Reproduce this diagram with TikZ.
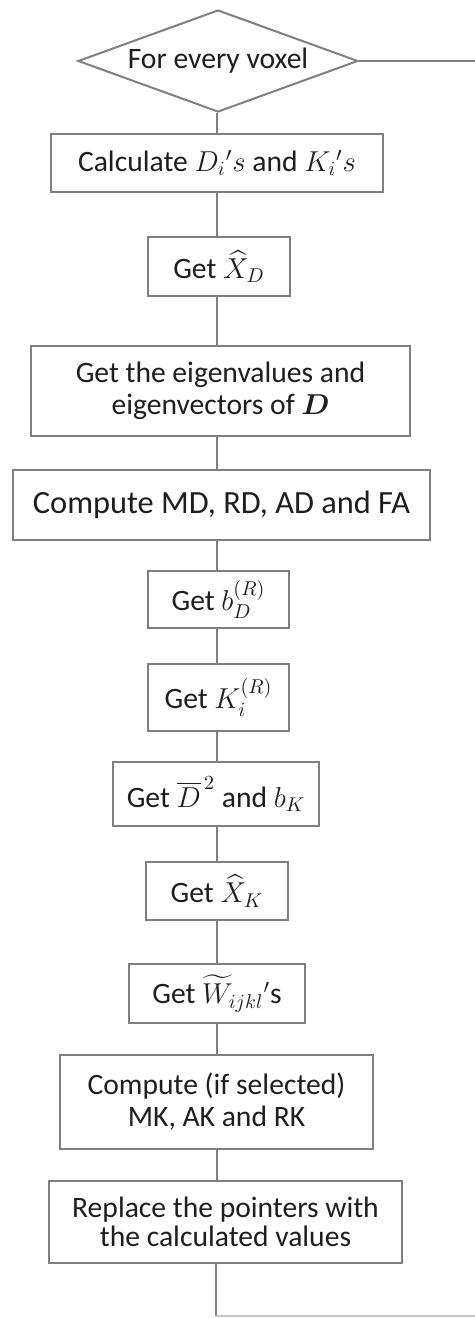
\documentclass[tikz,border=0pt]{standalone}
\usepackage{amsmath}
\usepackage{fontspec}
\setmainfont{Carlito}
\usetikzlibrary{shapes.geometric}
\definecolor{edgegray}{HTML}{7F7F7F}
\definecolor{lightline}{HTML}{C8C8C8}
\definecolor{txt}{HTML}{1E1E1E}
\begin{document}
\begin{tikzpicture}[x=0.5pt,y=-0.5pt,
  stepbox/.style={draw=edgegray, line width=1pt, rectangle, inner sep=0pt,
    align=center, text=txt, font=\fontsize{14.8}{16}\selectfont},
  decision/.style={draw=edgegray, line width=1pt, diamond, inner sep=0pt,
    aspect=2.745, text=txt, font=\fontsize{14.8}{16}\selectfont},
  link/.style={draw=edgegray, line width=0.9pt}]
\useasboundingbox (0,0) rectangle (475,1318);
\coordinate (sp) at (217,0);
\node[decision, minimum width=140pt, minimum height=51pt] (dia) at (218,61) {For every voxel};
\node[stepbox, minimum width=166pt, minimum height=29pt] (b1) at (217,163) {Calculate $D_i{}'s$ and $K_i{}'s$};
\node[stepbox, minimum width=71pt, minimum height=29.5pt] (b2) at (219,266.5) {Get $\widehat{X}_D$};
\node[stepbox, minimum width=189.5pt, minimum height=45pt] (b3) at (220.5,391) {Get the eigenvalues and\\eigenvectors of $\boldsymbol{D}$};
\node[stepbox, minimum width=208.5pt, minimum height=35pt, font=\fontsize{16.2}{17}\selectfont] (b4) at (221.5,505) {Compute MD, RD, AD and FA};
\node[stepbox, minimum width=70.5pt, minimum height=28.5pt] (b5) at (218.5,599.5) {Get $b_D^{(R)}$};
\node[stepbox, minimum width=70.5pt, minimum height=33.5pt] (b6) at (218.5,697.5) {Get $K_i^{(R)}$};
\node[stepbox, minimum width=103pt, minimum height=32pt] (b7) at (216,794) {Get $\overline{D}^{\,2}$ and $b_K$};
\node[stepbox, minimum width=71pt, minimum height=29pt] (b8) at (217,891) {Get $\widehat{X}_K$};
\node[stepbox, minimum width=88pt, minimum height=29.5pt] (b9) at (217,993.5) {Get $\widetilde{W}_{ijkl}{}'$s};
\node[stepbox, minimum width=156.5pt, minimum height=47pt] (b10) at (216.5,1102) {Compute (if selected)\\MK, AK and RK};
\node[stepbox, minimum width=176.5pt, minimum height=41pt, font=\fontsize{14.8}{14.5}\selectfont] (b11) at (225.5,1222) {Replace the pointers with\\the calculated values};
\coordinate (loopR) at (475,61);
\coordinate (loopB) at (216,1316);
\coordinate (loopBR) at (475,1316);
\draw[link] (dia.south -| sp) -- (b1.north -| sp);
\draw[link] (b1.south -| sp) -- (b2.north -| sp);
\draw[link] (b2.south -| sp) -- (b3.north -| sp);
\draw[link] (b3.south -| sp) -- (b4.north -| sp);
\draw[link] (b4.south -| sp) -- (b5.north -| sp);
\draw[link] (b5.south -| sp) -- (b6.north -| sp);
\draw[link] (b6.south -| sp) -- (b7.north -| sp);
\draw[link] (b7.south -| sp) -- (b8.north -| sp);
\draw[link] (b8.south -| sp) -- (b9.north -| sp);
\draw[link] (b9.south -| sp) -- (b10.north -| sp);
\draw[link] (b10.south -| sp) -- (b11.north -| sp);
\draw[link] (dia.east) -- (loopR);
\draw[link] (b11.south -| loopB) -- (loopB);
\draw[draw=lightline, line width=0.8pt] (loopB) -- (loopBR);
\end{tikzpicture}
\end{document}
